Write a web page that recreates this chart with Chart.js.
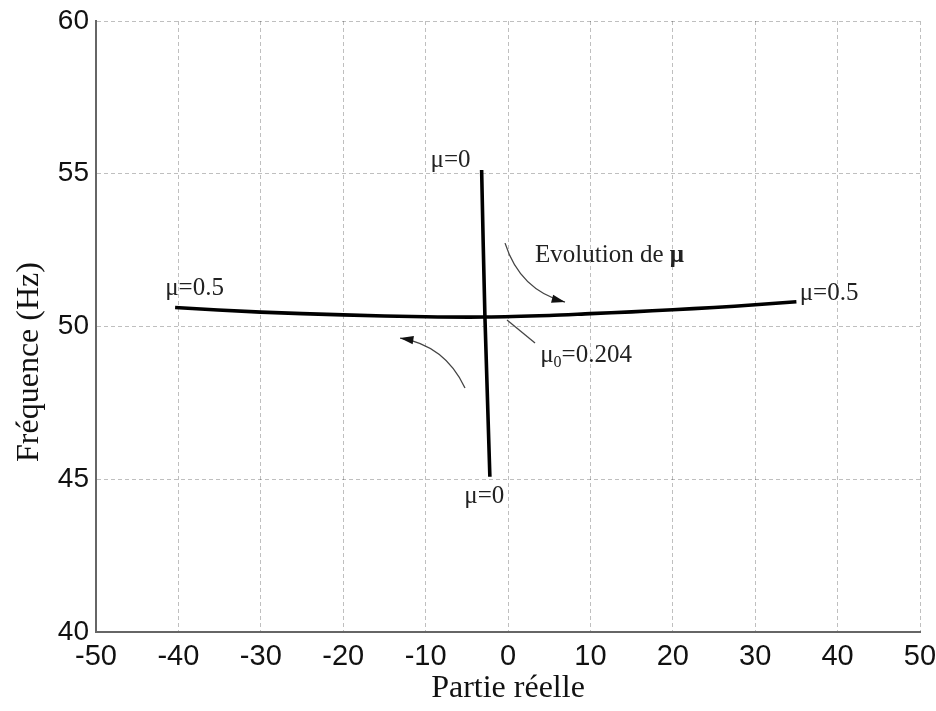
<!DOCTYPE html>
<html>
<head>
<meta charset="utf-8">
<script src="https://cdn.jsdelivr.net/npm/chart.js@4.4.1/dist/chart.umd.min.js"></script>
<style>
  html, body { margin: 0; padding: 0; background: #fff; }
  #wrap { width: 936px; height: 711px; }
</style>
</head>
<body>
<div id="wrap"><canvas id="lieu"></canvas></div>
<script>
// branche horizontale (mu de 0.5 -> 0.204 -> 0.5)
const horizX = [-40.4, -30, -20, -10, -2.8, 5, 10, 15, 20, 25, 30, 35];
const horizY = [50.62, 50.47, 50.38, 50.32, 50.31, 50.36, 50.42, 50.48, 50.55, 50.62, 50.71, 50.81];
// branche verticale (mu=0 en haut et en bas)
const vertX = [-3.2, -3.0, -2.8, -2.5, -2.2];
const vertY = [55.12, 52.6, 50.32, 47.7, 45.08];

const xTicks = [-50, -40, -30, -20, -10, 0, 10, 20, 30, 40, 50];
const yTicks = [40, 45, 50, 55, 60];

// annotations : [texte, x, y]
const labels = [
  ['μ=0', -9.4, 55.22],
  ['μ=0', -5.3, 44.22],
  ['μ=0.5', -41.6, 51.03],
  ['μ=0.5', 35.4, 50.87]
];
// fleches courbes : depart, controle, arrivee
const arrows = [
  [[-0.36, 52.73], [1.46, 51.19], [6.92, 50.80]],
  [[-5.22, 47.99], [-7.65, 49.39], [-13.1, 49.62]]
];
const pointer = [[3.28, 49.46], [-0.12, 50.21]];

function pts(xs, ys) {
  return xs.map((x, i) => ({ x: x, y: ys[i] }));
}

const serif = '"Liberation Serif", "Times New Roman", serif';
const sans = '"Liberation Sans", Arial, sans-serif';

const annot = {
  id: 'annot',
  afterDatasetsDraw(chart) {
    const c = chart.ctx;
    const sx = chart.scales.x, sy = chart.scales.y;
    const P = (p) => [sx.getPixelForValue(p[0]), sy.getPixelForValue(p[1])];
    c.save();
    c.fillStyle = '#222';
    c.font = '25px ' + serif;
    c.textBaseline = 'alphabetic';
    labels.forEach(l => {
      c.fillText(l[0], sx.getPixelForValue(l[1]), sy.getPixelForValue(l[2]));
    });
    // Evolution de mu
    let ex = sx.getPixelForValue(3.28), ey = sy.getPixelForValue(52.11);
    c.fillText('Evolution de ', ex, ey);
    let w = c.measureText('Evolution de ').width;
    c.font = 'bold 25px ' + serif;
    c.fillText('μ', ex + w, ey);
    // mu0 = 0.204
    c.font = '25px ' + serif;
    let mx = sx.getPixelForValue(3.9), my = sy.getPixelForValue(48.84);
    c.fillText('μ', mx, my);
    let mw = c.measureText('μ').width;
    c.font = '16px ' + serif;
    c.fillText('0', mx + mw, my + 5);
    let zw = c.measureText('0').width;
    c.font = '25px ' + serif;
    c.fillText('=0.204', mx + mw + zw, my);

    // fleches
    c.strokeStyle = '#444';
    c.fillStyle = '#111';
    c.lineWidth = 1.3;
    arrows.forEach(a => {
      const p0 = P(a[0]), p1 = P(a[1]), p2 = P(a[2]);
      c.beginPath();
      c.moveTo(p0[0], p0[1]);
      c.quadraticCurveTo(p1[0], p1[1], p2[0], p2[1]);
      c.stroke();
      const ang = Math.atan2(p2[1] - p1[1], p2[0] - p1[0]);
      c.beginPath();
      c.moveTo(p2[0], p2[1]);
      c.lineTo(p2[0] - 14 * Math.cos(ang - 0.3), p2[1] - 14 * Math.sin(ang - 0.3));
      c.lineTo(p2[0] - 14 * Math.cos(ang + 0.3), p2[1] - 14 * Math.sin(ang + 0.3));
      c.closePath();
      c.fill();
    });
    const q0 = P(pointer[0]), q1 = P(pointer[1]);
    c.beginPath();
    c.moveTo(q0[0], q0[1]);
    c.lineTo(q1[0], q1[1]);
    c.stroke();

    // titres des axes
    c.fillStyle = '#111';
    c.font = '32px ' + serif;
    c.textAlign = 'center';
    c.textBaseline = 'middle';
    c.fillText('Partie réelle', (sx.left + sx.right) / 2, 689);
    c.translate(30, 362);
    c.rotate(-Math.PI / 2);
    c.fillText('Fréquence (Hz)', 0, 0);
    c.restore();
  }
};

const ctx = document.getElementById('lieu');

new Chart(ctx, {
  type: 'scatter',
  data: {
    datasets: [{
      data: pts(horizX, horizY),
      showLine: true,
      borderColor: '#000',
      borderWidth: 3.6,
      pointRadius: 0,
      tension: 0.3
    }, {
      data: pts(vertX, vertY),
      showLine: true,
      borderColor: '#000',
      borderWidth: 3.6,
      pointRadius: 0,
      tension: 0
    }]
  },
  options: {
    responsive: true,
    maintainAspectRatio: false,
    animation: false,
    layout: {
      padding: { top: 21, right: 16, left: 0, bottom: 0 }
    },
    plugins: {
      legend: { display: false },
      tooltip: { enabled: false }
    },
    scales: {
      x: {
        type: 'linear',
        min: -50,
        max: 50,
        afterBuildTicks: (axis) => { axis.ticks = xTicks.map(v => ({ value: v })); },
        afterFit: (axis) => {
          axis.height = 79;
          axis.paddingLeft = 0;
          axis.paddingRight = 0;
        },
        grid: {
          color: 'rgba(0,0,0,0.25)',
          drawTicks: false
        },
        border: { color: '#666', width: 2, dash: [4, 3] },
        ticks: {
          color: '#111',
          padding: 8,
          maxRotation: 0,
          font: { family: sans, size: 29 }
        }
      },
      y: {
        type: 'linear',
        min: 40,
        max: 60,
        afterBuildTicks: (axis) => { axis.ticks = yTicks.map(v => ({ value: v })); },
        afterFit: (axis) => {
          axis.width = 96;
          axis.paddingTop = 0;
          axis.paddingBottom = 0;
        },
        grid: {
          color: 'rgba(0,0,0,0.25)',
          drawTicks: false
        },
        border: { color: '#666', width: 2, dash: [4, 3] },
        ticks: {
          color: '#111',
          padding: 7,
          font: { family: sans, size: 28 }
        }
      }
    }
  },
  plugins: [annot]
});
</script>
</body>
</html>
